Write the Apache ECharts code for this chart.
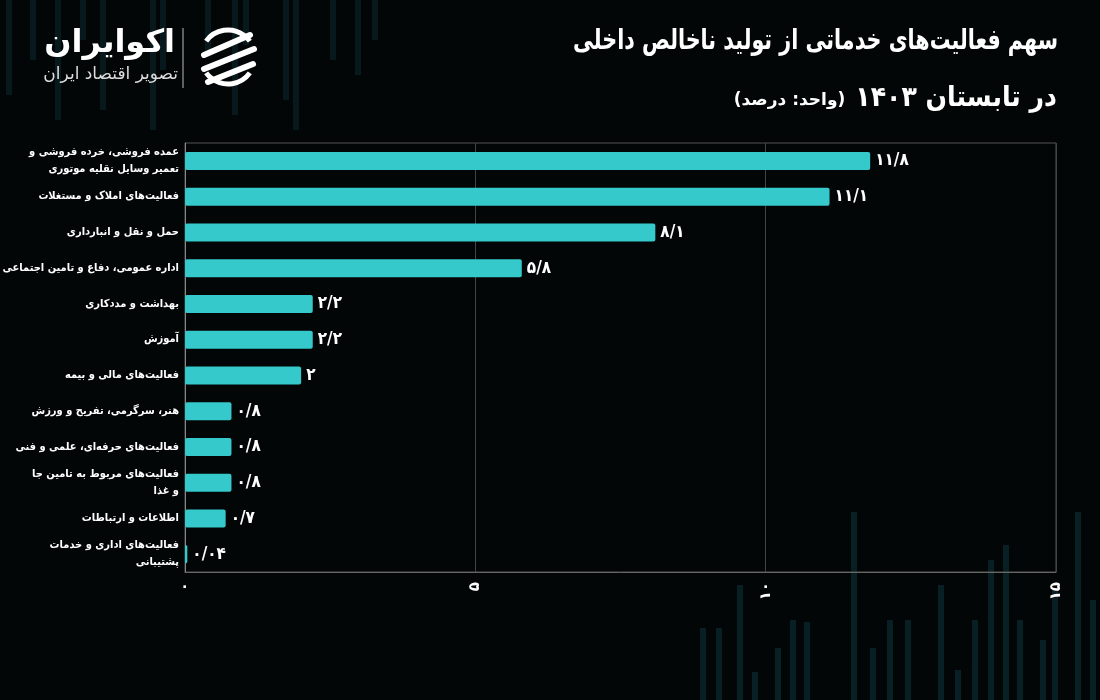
<!DOCTYPE html>
<html>
<head>
<meta charset="utf-8">
<script src="https://cdn.jsdelivr.net/npm/echarts@6/dist/echarts.min.js"></script>
<style>
html,body{margin:0;padding:0;background:#030606;}
#chart{width:1100px;height:700px;direction:rtl;}
</style>
</head>
<body>
<div id="chart"></div>
<script>
// ---- data ----
const categories = [
  'عمده فروشی، خرده فروشی و\nتعمیر وسایل نقلیه موتوری',
  'فعالیت‌های املاک و مستغلات',
  'حمل و نقل و انبارداری',
  'اداره عمومی، دفاع و تامین اجتماعی',
  'بهداشت و مددکاری',
  'آموزش',
  'فعالیت‌های مالی و بیمه',
  'هنر، سرگرمی، تفریح و ورزش',
  'فعالیت‌های حرفه‌ای، علمی و فنی',
  'فعالیت‌های مربوط به تامین جا\nو غذا',
  'اطلاعات و ارتباطات',
  'فعالیت‌های اداری و خدمات\nپشتیبانی'
];
const values = [11.8, 11.1, 8.1, 5.8, 2.2, 2.2, 2, 0.8, 0.8, 0.8, 0.7, 0.04];
const xTicks = [0, 5, 10, 15];

const titleLine1 = 'سهم فعالیت‌های خدماتی از تولید ناخالص داخلی';
const titleLine2 = 'در تابستان ۱۴۰۳';
const titleUnit = '(واحد: درصد)';
const brandName = 'اکوایران';
const brandTag = 'تصویر اقتصاد ایران';

function toFa(v) {
  const d = '۰۱۲۳۴۵۶۷۸۹';
  return String(v).replace(/[0-9]/g, c => d[+c]).replace('.', '/');
}

const COND = '"DejaVu Sans Condensed", "DejaVu Sans"';

// decorative background stripes (not data)
const deco = [];
const tl = [[6,0,95],[30,0,60],[55,0,120],[80,0,40],[100,0,110],[150,0,130],[160,0,70],[205,0,50],[232,0,115],[243,0,45],[283,0,100],[293,0,130],[330,0,60],[355,0,75],[372,0,40]];
tl.forEach(s => deco.push({type:'rect', shape:{x:s[0], y:s[1], width:6, height:s[2]}, style:{fill:'#0a262b', opacity:0.6}, z:-10}));
const br = [[700,628],[716,628],[737,585],[752,672],[775,648],[790,620],[804,622],[851,512],[870,648],[887,620],[905,620],[938,585],[955,670],[972,620],[988,560],[1003,545],[1017,620],[1040,640],[1052,590],[1075,512],[1090,600]];
br.forEach(s => deco.push({type:'rect', shape:{x:s[0], y:s[1], width:6, height:700-s[1]}, style:{fill:'#0b2a2f', opacity:0.75}, z:-10}));

// logo + title line 1
const logo = [
  {type:'text', x:175, y:28, style:{text: brandName, fill:'#fff', font:'bold 32px "DejaVu Sans"', textAlign:'right'}},
  {type:'text', x:178, y:66, style:{text: brandTag, fill:'#ddd', font:'17px "DejaVu Sans"', textAlign:'right'}},
  {type:'line', shape:{x1:183, y1:28, x2:183, y2:88}, style:{stroke:'#bbb', lineWidth:1}},
  {type:'group', x:228, y:57, children:[
    {type:'arc', shape:{cx:0, cy:0, r:27, startAngle:Math.PI*0.2, endAngle:Math.PI*0.8}, style:{stroke:'#fff', lineWidth:5, fill:null}},
    {type:'arc', shape:{cx:0, cy:0, r:27, startAngle:Math.PI*1.2, endAngle:Math.PI*1.8}, style:{stroke:'#fff', lineWidth:5, fill:null}},
    {type:'line', shape:{x1:-24, y1:-2, x2:22, y2:-22}, style:{stroke:'#fff', lineWidth:6, lineCap:'round'}},
    {type:'line', shape:{x1:-24, y1:12, x2:26, y2:-8}, style:{stroke:'#fff', lineWidth:6, lineCap:'round'}},
    {type:'line', shape:{x1:-20, y1:25, x2:25, y2:7}, style:{stroke:'#fff', lineWidth:6, lineCap:'round'}}
  ]},
  {type:'text', x:1058, y:28, scaleX:0.82, style:{text: titleLine1, fill:'#fff', font:'bold 28px ' + COND, textAlign:'right'}}
];

const chart = echarts.init(document.getElementById('chart'), null, {renderer:'canvas'});
chart.setOption({
  backgroundColor: '#030606',
  animation: false,
  graphic: deco.concat(logo),
  title: [
    {text: '{s|' + titleUnit + '}  {b|' + titleLine2 + '}', right: 38, top: 80,
     textStyle:{rich:{
       b:{color:'#fff', fontSize:28, fontWeight:'bold', fontFamily:'DejaVu Sans Condensed'},
       s:{color:'#fff', fontSize:17, fontFamily:'DejaVu Sans', padding:[4,0,0,0]}
     }}}
  ],
  grid: {left:185, right:44, top:143, bottom:128, show:true, borderColor:'#555', borderWidth:1,
         containLabel:false, outerBoundsMode:'none'},
  xAxis: {
    type:'value', min: xTicks[0], max: xTicks[xTicks.length-1], interval: xTicks[1]-xTicks[0],
    axisLine:{show:true, lineStyle:{color:'#666'}},
    axisTick:{show:false},
    splitLine:{show:true, lineStyle:{color:'#444', width:1}},
    axisLabel:{color:'#fff', fontSize:15, fontWeight:'bold', rotate:90, margin:10, fontFamily:'DejaVu Sans', formatter: v => toFa(v)}
  },
  yAxis: {
    type:'category', data: categories, inverse:true,
    axisLine:{show:true, lineStyle:{color:'#888'}},
    axisTick:{show:false},
    axisLabel:{color:'#fff', fontSize:11, fontWeight:'bold', margin:6, lineHeight:17, fontFamily:'DejaVu Sans Condensed', align:'right'}
  },
  series: [{
    type:'bar', data: values, barWidth:18,
    itemStyle:{color:'#35c9cc', borderRadius:2},
    label:{show:true, position:'right', distance:5, color:'#fff', fontSize:17, fontWeight:'bold', fontFamily:'DejaVu Sans Condensed', formatter: p => toFa(p.value)}
  }]
});
</script>
</body>
</html>
